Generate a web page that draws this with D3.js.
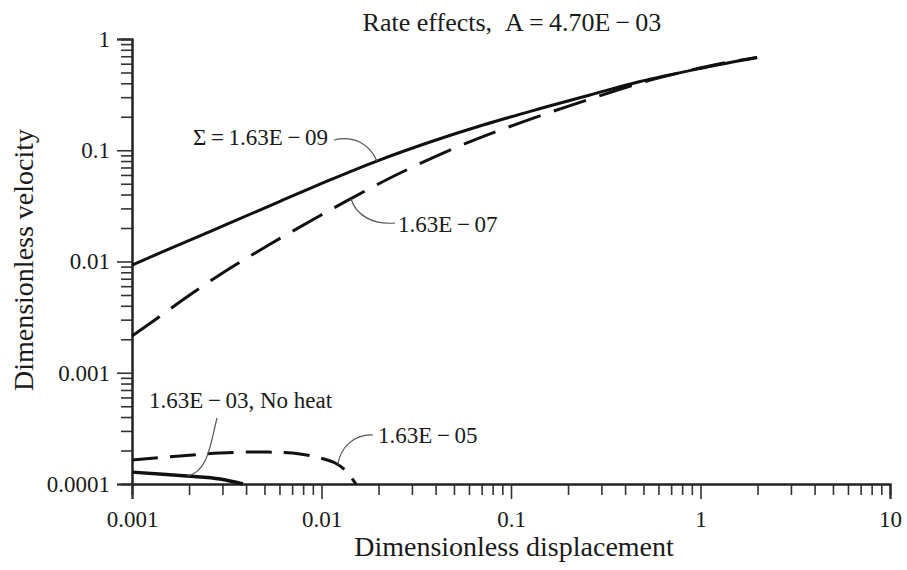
<!DOCTYPE html>
<html>
<head>
<meta charset="utf-8">
<script src="https://cdn.jsdelivr.net/npm/d3@7/dist/d3.min.js"></script>
<style>
  html, body { margin: 0; padding: 0; background: #fff; }
  svg { display: block; }
  text { font-family: "Liberation Serif", "Times New Roman", serif; fill: #1a1a1a; }
</style>
</head>
<body>
<svg id="chart" width="907" height="570"></svg>
<script>
// ---------------- DATA ----------------
const titleText = "Rate effects,\u2002A\u2009=\u20094.70E\u2009\u2212\u200903";
const xTitle = "Dimensionless displacement";
const yTitle = "Dimensionless velocity";

const xMajorTicks = [0.001, 0.01, 0.1, 1, 10];
const xMajorLabels = ["0.001", "0.01", "0.1", "1", "10"];
const yMajorTicks = [0.0001, 0.001, 0.01, 0.1, 1];
const yMajorLabels = ["0.0001", "0.001", "0.01", "0.1", "1"];

// Sigma = 1.63E-09 (solid)
const s09X = [0.001, 0.00179, 0.00329, 0.00604, 0.0111, 0.0196, 0.0374, 0.0712, 0.137, 0.261, 0.48, 0.994, 1.99];
const s09Y = [0.0093, 0.01425, 0.02223, 0.0347, 0.05414, 0.080, 0.1186, 0.1686, 0.2325, 0.3137, 0.415, 0.543, 0.682];

// Sigma = 1.63E-07 (long dash)
const s07X = [0.001, 0.001275, 0.00207, 0.00337, 0.00485, 0.00699, 0.0111, 0.018, 0.026, 0.052, 0.091, 0.157, 0.271, 0.48, 0.808, 1.268, 1.99];
const s07Y = [0.00214, 0.002858, 0.00516, 0.00892, 0.01296, 0.01861, 0.02904, 0.04531, 0.06244, 0.1069, 0.1552, 0.2162, 0.2949, 0.4022, 0.5051, 0.600, 0.682];

// Sigma = 1.63E-05 (dash)
const s05X = [0.001, 0.00179, 0.00291, 0.00503, 0.0077, 0.00982, 0.0118, 0.0133, 0.0152];
const s05Y = [0.000164, 0.0001785, 0.00019, 0.000194, 0.000186, 0.0001713, 0.0001544, 0.0001336, 0.0001];

// Sigma = 1.63E-03, No heat (solid)
const s03X = [0.001, 0.00195, 0.00291, 0.00385];
const s03Y = [0.000128, 0.000118, 0.000111, 0.0001];

// annotation labels (text anchor position in data units) and the curve point they refer to
const annLabels = ["\u03A3\u2009=\u20091.63E\u2009\u2212\u200909", "1.63E\u2009\u2212\u200907", "1.63E\u2009\u2212\u200903, No heat", "1.63E\u2009\u2212\u200905"];
const annTextX = [0.0021, 0.02533, 0.00123, 0.01987];
const annTextY = [0.1115, 0.01842, 0.000482, 0.0002336];
const annPointX = [0.0196, 0.0143, 0.00195, 0.0122];

// ---------------- CHART ----------------
const svg = d3.select("#chart");
const x = d3.scaleLog().domain([0.001, 10]).range([132, 890]);
const y = d3.scaleLog().domain([0.0001, 1]).range([484, 39]);

const series = [
  {xs: s09X, ys: s09Y, dash: null, w: 3},
  {xs: s07X, ys: s07Y, dash: "34,14", w: 3},
  {xs: s03X, ys: s03Y, dash: null, w: 3.4},
  {xs: s05X, ys: s05Y, dash: "26,12", w: 3}
];

// axes: minor ticks
const minorX = x.ticks().filter(d => !xMajorTicks.some(m => Math.abs(m - d) / m < 1e-9));
const minorY = y.ticks().filter(d => !yMajorTicks.some(m => Math.abs(m - d) / m < 1e-9));

const gx = svg.append("g").attr("transform", `translate(0,${y.range()[0]})`);
gx.call(d3.axisBottom(x).tickValues(minorX).tickSize(11).tickFormat(""));
gx.append("g").call(d3.axisBottom(x).tickValues(xMajorTicks).tickSize(15).tickPadding(12)
    .tickFormat((d, i) => xMajorLabels[i]));

const gy = svg.append("g").attr("transform", `translate(${x.range()[0]},0)`);
gy.call(d3.axisLeft(y).tickValues(minorY).tickSize(11).tickFormat(""));
gy.append("g").call(d3.axisLeft(y).tickValues(yMajorTicks).tickSize(15).tickPadding(7)
    .tickFormat((d, i) => yMajorLabels[i]));

svg.selectAll(".domain").attr("stroke", "#222").attr("stroke-width", 2);
svg.selectAll(".tick line").attr("stroke", "#333").attr("stroke-width", 1.6);
svg.selectAll(".tick text").attr("font-size", 23).attr("fill", "#1a1a1a")
   .attr("font-family", "'Liberation Serif', 'Times New Roman', serif");

// curves
const line = d3.line().x(d => x(d[0])).y(d => y(d[1])).curve(d3.curveCatmullRom.alpha(0.5));
series.forEach(s => {
  const pts = s.xs.map((v, i) => [v, s.ys[i]]);
  svg.append("path").attr("d", line(pts)).attr("fill", "none")
    .attr("stroke", "#111").attr("stroke-width", s.w)
    .attr("stroke-linecap", "butt")
    .attr("stroke-dasharray", s.dash);
});

// interpolate a series in log space
function interpY(xs, ys, xv) {
  const lx = Math.log10(xv);
  for (let i = 0; i < xs.length - 1; i++) {
    const a = Math.log10(xs[i]), b = Math.log10(xs[i + 1]);
    if (lx >= a && lx <= b) {
      const t = (lx - a) / (b - a);
      return Math.pow(10, Math.log10(ys[i]) + t * (Math.log10(ys[i + 1]) - Math.log10(ys[i])));
    }
  }
  return ys[ys.length - 1];
}

const annSeries = [series[0], series[1], series[2], series[3]];
annLabels.forEach((lab, i) => {
  const tx = x(annTextX[i]), ty = y(annTextY[i]);
  const t = svg.append("text").attr("x", tx).attr("y", ty).attr("font-size", 23).text(lab);
  const w = t.node().getComputedTextLength();
  const ex = x(annPointX[i]);
  const ey = y(interpY(annSeries[i].xs, annSeries[i].ys, annPointX[i]));
  let p = d3.path();
  if (i === 0) {
    const sx = tx + w + 6, sy = ty - 5;
    p.moveTo(sx, sy); p.bezierCurveTo(sx + 19, sy - 5, ex - 7, ey - 17, ex, ey);
  } else if (i === 1) {
    const sx = tx - 3, sy = ty - 9;
    p.moveTo(sx, sy); p.bezierCurveTo(sx - 23, sy + 2, ex + 5, ey + 16, ex, ey);
  } else if (i === 2) {
    const sx = tx + 68, sy = ty + 10;
    p.moveTo(sx, sy); p.bezierCurveTo(sx - 6, sy + 22, sx - 8, ey - 4, ex, ey);
  } else {
    const sx = tx - 5, sy = ty - 8;
    p.moveTo(sx, sy); p.bezierCurveTo(sx - 18, sy - 1, ex + 2, ey - 18, ex, ey);
  }
  svg.append("path").attr("d", p.toString()).attr("fill", "none")
    .attr("stroke", "#555").attr("stroke-width", 1.2);
});

// titles
svg.append("text").attr("x", 512).attr("y", 31).attr("text-anchor", "middle")
  .attr("font-size", 26).text(titleText);
svg.append("text").attr("x", 514).attr("y", 556).attr("text-anchor", "middle")
  .attr("font-size", 28).text(xTitle);
svg.append("text").attr("transform", "translate(33,260) rotate(-90)")
  .attr("text-anchor", "middle").attr("font-size", 28).text(yTitle);
</script>
</body>
</html>
